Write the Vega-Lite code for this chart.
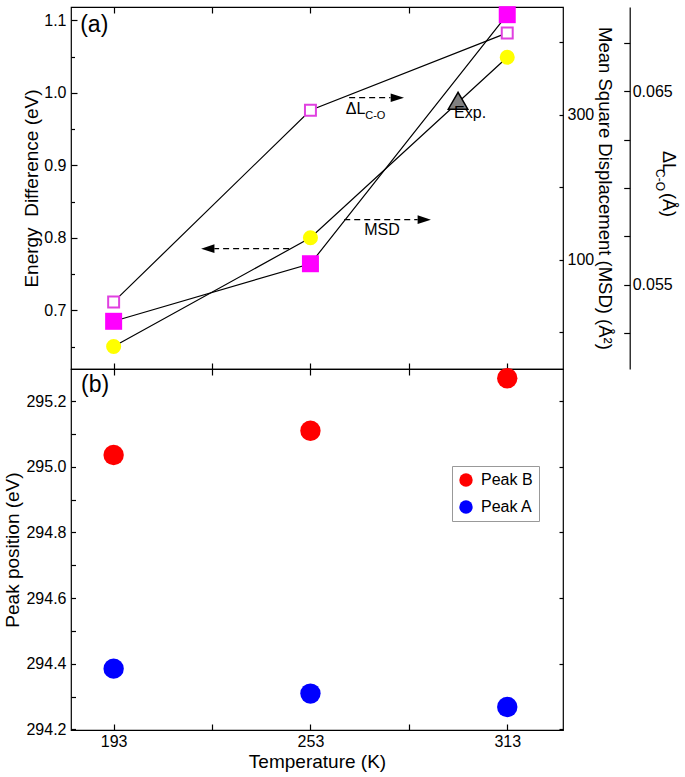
{
  "$schema": "https://vega.github.io/schema/vega-lite/v6.json",
  "padding": {"left": 3, "top": 5, "right": 5, "bottom": 5},
  "background": "white",
  "config": {
    "font": "Liberation Sans",
    "view": {"stroke": "black", "strokeWidth": 1.2},
    "axis": {"grid": false, "domain": false, "tickColor": "black", "tickWidth": 1.2, "labelColor": "black", "titleColor": "black", "labelFontSize": 16, "titleFontSize": 19, "titleFontWeight": "normal", "labelOverlap": false, "labelFlush": false, "labelBound": false}
  },
  "datasets": {
    "energy": [{"T": 193, "E": 0.650}, {"T": 253, "E": 0.800}, {"T": 313, "E": 1.049}],
    "expt": [{"T": 298, "E": 0.989}],
    "arrows": [{"T": 264.8, "T2": 277.4, "E": 0.9932}, {"T": 263.3, "T2": 285.7, "E": 0.825}, {"T": 246.5, "T2": 223.7, "E": 0.785}],
    "headsR": [{"T": 279.5, "E": 0.9932}, {"T": 287.7, "E": 0.825}],
    "headsL": [{"T": 221.7, "E": 0.785}],
    "notes": [{"T": 263.8, "E": 0.9712, "label": "ΔL"}, {"T": 269.4, "E": 0.8034, "label": "MSD"}, {"T": 296.8, "E": 0.9652, "label": "Exp."}],
    "notesSub": [{"T": 269.7, "E": 0.9634, "label": "C-O"}],
    "panelA": [{"T": 182.8, "E": 1.0839, "label": "(a)"}],
    "dlTitle": [{"T": 361.96, "E": 0.9046, "label": "ΔL"}, {"T": 361.96, "E": 0.8452, "label": "(Å)"}],
    "dlTitleSub": [{"T": 359.7, "E": 0.8797, "label": "C-O"}],
    "msd": [{"T": 193, "MSD": 14.8}, {"T": 253, "MSD": 94.2}, {"T": 313, "MSD": 437.7}],
    "dl": [{"T": 193, "dL": 0.05411}, {"T": 253, "dL": 0.06402}, {"T": 313, "dL": 0.06802}],
    "peaks": [
      {"T": 193, "P": 295.036, "peak": "Peak B"}, {"T": 253, "P": 295.11, "peak": "Peak B"}, {"T": 313, "P": 295.27, "peak": "Peak B"},
      {"T": 193, "P": 294.385, "peak": "Peak A"}, {"T": 253, "P": 294.309, "peak": "Peak A"}, {"T": 313, "P": 294.268, "peak": "Peak A"}
    ],
    "panelB": [{"T": 183.07, "P": 295.228, "label": "(b)"}]
  },
  "vconcat": [
    {
      "width": 492,
      "height": 362,
      "layer": [
        {
          "layer": [
            {
              "data": {"name": "energy"},
              "mark": {"type": "line", "color": "black", "strokeWidth": 1.2},
              "encoding": {
                "x": {"field": "T", "type": "quantitative", "scale": {"domain": [180, 330], "nice": false, "zero": false},
                  "axis": {"orient": "bottom", "values": [193, 223, 253, 283, 313], "labels": false, "title": null, "tickSize": -6}},
                "y": {"field": "E", "type": "quantitative", "title": "Energy\u00a0 Difference (eV)", "scale": {"domain": [0.619, 1.1183], "nice": false, "zero": false},
                  "axis": {"orient": "left", "title": "Energy\u00a0 Difference (eV)", "values": [0.7, 0.8, 0.9, 1.0, 1.1], "format": ".1f",
                    "ticks": false, "labelPadding": 5, "titlePadding": 2}}
              }
            },
            {
              "data": {"name": "arrows"},
              "mark": {"type": "rule", "color": "black", "strokeWidth": 1.2, "strokeDash": [6, 4]},
              "encoding": {
                "x": {"field": "T", "type": "quantitative"},
                "x2": {"field": "T2"},
                "y": {"field": "E", "type": "quantitative"}
              }
            },
            {
              "data": {"name": "headsR"},
              "mark": {"type": "point", "shape": "M1,0L-1,-0.65L-1,0.65Z", "filled": true, "color": "black", "opacity": 1, "size": 177},
              "encoding": {
                "x": {"field": "T", "type": "quantitative"},
                "y": {"field": "E", "type": "quantitative"}
              }
            },
            {
              "data": {"name": "headsL"},
              "mark": {"type": "point", "shape": "M-1,0L1,-0.65L1,0.65Z", "filled": true, "color": "black", "opacity": 1, "size": 177},
              "encoding": {
                "x": {"field": "T", "type": "quantitative"},
                "y": {"field": "E", "type": "quantitative"}
              }
            },
            {
              "data": {"name": "energy"},
              "mark": {"type": "point", "shape": "circle", "filled": true, "color": "#ffff00", "opacity": 1, "size": 227},
              "encoding": {
                "x": {"field": "T", "type": "quantitative"},
                "y": {"field": "E", "type": "quantitative"}
              }
            },
            {
              "data": {"name": "expt"},
              "mark": {"type": "point", "shape": "triangle-up", "filled": true, "fill": "#808080", "stroke": "black", "strokeWidth": 1.5, "opacity": 1, "size": 380},
              "encoding": {
                "x": {"field": "T", "type": "quantitative"},
                "y": {"field": "E", "type": "quantitative"}
              }
            },
            {
              "data": {"name": "notes"},
              "mark": {"type": "text", "fontSize": 16, "align": "left", "baseline": "alphabetic", "color": "black"},
              "encoding": {
                "x": {"field": "T", "type": "quantitative"},
                "y": {"field": "E", "type": "quantitative"},
                "text": {"field": "label"}
              }
            },
            {
              "data": {"name": "notesSub"},
              "mark": {"type": "text", "fontSize": 11, "align": "left", "baseline": "alphabetic", "color": "black"},
              "encoding": {
                "x": {"field": "T", "type": "quantitative"},
                "y": {"field": "E", "type": "quantitative"},
                "text": {"field": "label"}
              }
            },
            {
              "data": {"name": "dlTitleSub"},
              "mark": {"type": "text", "fontSize": 12, "align": "center", "baseline": "middle", "angle": 90, "color": "black"},
              "encoding": {
                "x": {"field": "T", "type": "quantitative"},
                "y": {"field": "E", "type": "quantitative"},
                "text": {"field": "label"}
              }
            }
          ]
        },
        {
          "data": {"name": "panelA"},
          "mark": {"type": "text", "fontSize": 23, "align": "left", "baseline": "alphabetic", "color": "black"},
          "encoding": {
            "x": {"field": "T", "type": "quantitative", "scale": {"domain": [180, 330], "nice": false, "zero": false}, "axis": null},
            "y": {"field": "E", "type": "quantitative", "scale": {"domain": [0.619, 1.1183], "nice": false, "zero": false},
              "axis": {"orient": "left", "values": [0.7, 0.8, 0.9, 1.0, 1.1], "labels": false, "title": null, "tickSize": -6}},
            "text": {"field": "label"}
          }
        },
        {
          "data": {"name": "dlTitle"},
          "mark": {"type": "text", "fontSize": 18, "align": "center", "baseline": "middle", "angle": 90, "color": "black"},
          "encoding": {
            "x": {"field": "T", "type": "quantitative", "scale": {"domain": [180, 330], "nice": false, "zero": false}, "axis": null},
            "y": {"field": "E", "type": "quantitative", "scale": {"domain": [0.619, 1.1183], "nice": false, "zero": false},
              "axis": {"orient": "left", "values": [0.65, 0.75, 0.85, 0.95, 1.05], "labels": false, "title": null, "tickSize": -3.5}},
            "text": {"field": "label"}
          }
        },
        {
          "data": {"name": "msd"},
          "mark": {"type": "line", "color": "black", "strokeWidth": 1.2},
          "encoding": {
            "x": {"field": "T", "type": "quantitative", "scale": {"domain": [180, 330], "nice": false, "zero": false},
              "axis": {"orient": "top", "values": [193, 223, 253, 283, 313], "labels": false, "title": null, "tickSize": -6}},
            "y": {"field": "MSD", "type": "quantitative", "title": "Mean Square Displacement (MSD) (Å²)", "scale": {"domain": [-51, 448.3], "nice": false, "zero": false},
              "axis": {"orient": "right", "title": "Mean Square Displacement (MSD) (Å²)", "titleFontSize": 18.5, "values": [100, 300],
                "ticks": false, "labelPadding": 4, "titlePadding": 0.5}}
          }
        },
        {
          "data": {"name": "msd"},
          "mark": {"type": "point", "shape": "square", "filled": true, "color": "#ff00ff", "opacity": 1, "size": 289},
          "encoding": {
            "x": {"field": "T", "type": "quantitative", "scale": {"domain": [180, 330], "nice": false, "zero": false}, "axis": null},
            "y": {"field": "MSD", "type": "quantitative", "scale": {"domain": [-51, 448.3], "nice": false, "zero": false},
              "axis": {"orient": "right", "values": [0, 100, 200, 300, 400], "labels": false, "title": null, "tickSize": -4}}
          }
        },
        {
          "data": {"name": "dl"},
          "mark": {"type": "line", "color": "black", "strokeWidth": 1.2},
          "encoding": {
            "x": {"field": "T", "type": "quantitative", "scale": {"domain": [180, 330], "nice": false, "zero": false}, "axis": null},
            "y": {"field": "dL", "type": "quantitative", "scale": {"domain": [0.05064, 0.06936], "nice": false, "zero": false},
              "axis": {"orient": "right", "offset": 66.7, "title": null, "values": [0.055, 0.065], "format": ".3f",
                "ticks": false, "labelPadding": 2.5, "domain": true, "domainColor": "black", "domainWidth": 1.2}}
          }
        },
        {
          "data": {"name": "dl"},
          "mark": {"type": "point", "shape": "square", "filled": false, "fill": "white", "stroke": "#e040e0", "strokeWidth": 2, "opacity": 1, "size": 120},
          "encoding": {
            "x": {"field": "T", "type": "quantitative", "scale": {"domain": [180, 330], "nice": false, "zero": false}, "axis": null},
            "y": {"field": "dL", "type": "quantitative", "scale": {"domain": [0.05064, 0.06936], "nice": false, "zero": false},
              "axis": {"orient": "right", "offset": 66.7, "title": null, "values": [0.0525, 0.055, 0.0575, 0.06, 0.0625, 0.065, 0.0675],
                "labels": false, "tickSize": -6}}
          }
        }
      ],
      "resolve": {"scale": {"x": "independent", "y": "independent"}}
    },
    {
      "width": 492,
      "height": 361,
      "layer": [
        {
          "data": {"name": "peaks"},
          "transform": [{"filter": "datum.peak == 'Peak B'"}],
          "mark": {"type": "circle", "size": 415, "opacity": 1},
          "encoding": {
            "x": {"field": "T", "type": "quantitative", "title": "Temperature (K)", "scale": {"domain": [180, 330], "nice": false, "zero": false},
              "axis": {"orient": "bottom", "title": "Temperature (K)", "values": [193, 253, 313], "ticks": false, "labelPadding": 3, "titlePadding": 3}},
            "y": {"field": "P", "type": "quantitative", "title": "Peak position (eV)", "scale": {"domain": [294.198, 295.298], "nice": false, "zero": false},
              "axis": {"orient": "left", "title": "Peak position (eV)", "values": [294.2, 294.4, 294.6, 294.8, 295.0, 295.2], "format": ".1f",
                "ticks": false, "labelPadding": 5, "titlePadding": 3}},
            "color": {"field": "peak", "type": "nominal", "scale": {"domain": ["Peak B", "Peak A"], "range": ["#ff0000", "#0000ff"]},
              "legend": {"orient": "none", "legendX": 381, "legendY": 97, "title": null, "strokeColor": "#999999", "fillColor": "white", "padding": 6, "rowPadding": 11,
                "symbolSize": 180, "symbolType": "circle", "symbolStrokeWidth": 0, "labelFontSize": 16, "labelColor": "black", "labelOffset": 7}}
          }
        },
        {
          "data": {"name": "peaks"},
          "transform": [{"filter": "datum.peak == 'Peak A'"}],
          "mark": {"type": "circle", "size": 415, "opacity": 1},
          "encoding": {
            "x": {"field": "T", "type": "quantitative", "scale": {"domain": [180, 330], "nice": false, "zero": false},
              "axis": {"orient": "top", "values": [193, 223, 253, 283, 313], "labels": false, "title": null, "tickSize": -6}},
            "y": {"field": "P", "type": "quantitative", "scale": {"domain": [294.198, 295.298], "nice": false, "zero": false},
              "axis": {"orient": "right", "values": [294.2, 294.4, 294.6, 294.8, 295.0, 295.2], "labels": false, "title": null, "tickSize": -4}},
            "color": {"field": "peak", "type": "nominal", "scale": {"domain": ["Peak B", "Peak A"], "range": ["#ff0000", "#0000ff"]}}
          }
        },
        {
          "data": {"name": "panelB"},
          "mark": {"type": "text", "fontSize": 23, "align": "left", "baseline": "alphabetic", "color": "black"},
          "encoding": {
            "x": {"field": "T", "type": "quantitative", "scale": {"domain": [180, 330], "nice": false, "zero": false},
              "axis": {"orient": "bottom", "values": [193, 223, 253, 283, 313], "labels": false, "title": null, "tickSize": -6}},
            "y": {"field": "P", "type": "quantitative", "scale": {"domain": [294.198, 295.298], "nice": false, "zero": false},
              "axis": {"orient": "left", "values": [294.2, 294.3, 294.4, 294.5, 294.6, 294.7, 294.8, 294.9, 295.0, 295.1, 295.2], "labels": false, "title": null, "tickSize": -4.5}},
            "text": {"field": "label"}
          }
        }
      ],
      "resolve": {"scale": {"x": "independent", "y": "independent"}}
    }
  ],
  "spacing": 0,
  "bounds": "flush",
  "resolve": {"scale": {"color": "independent"}, "legend": {"color": "independent"}}
}
